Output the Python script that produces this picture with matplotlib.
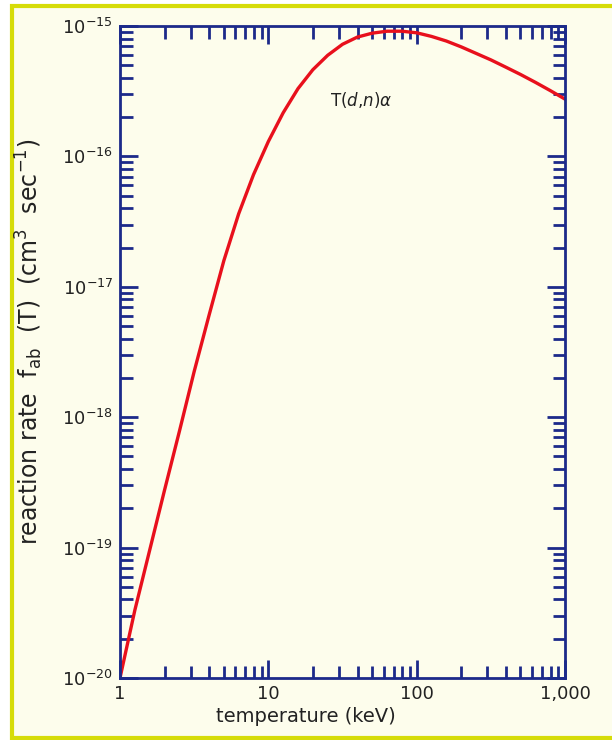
import numpy as np
import matplotlib
matplotlib.use('Agg')
from matplotlib import pyplot as plt
from matplotlib.ticker import LogLocator, FixedLocator, FixedFormatter, NullFormatter
from matplotlib.patches import Rectangle

# D-T reaction rate (keV, cm^3/s)
temperature = [1.0, 1.259, 1.585, 1.995, 2.512, 3.162, 3.981, 5.012, 6.310,
               7.943, 10.0, 12.59, 15.85, 19.95, 25.12, 31.62, 39.81, 50.12,
               63.10, 79.43, 100.0, 125.9, 158.5, 199.5, 251.2, 316.2, 398.1,
               501.2, 631.0, 794.3, 1000.0]
rate = [1.0e-20, 3.31e-20, 9.55e-20, 2.75e-19, 7.76e-19, 2.24e-18, 6.03e-18,
        1.585e-17, 3.63e-17, 7.24e-17, 1.30e-16, 2.16e-16, 3.31e-16, 4.62e-16,
        5.96e-16, 7.24e-16, 8.22e-16, 8.81e-16, 9.12e-16, 9.12e-16, 8.87e-16,
        8.32e-16, 7.67e-16, 6.92e-16, 6.17e-16, 5.50e-16, 4.84e-16, 4.25e-16,
        3.70e-16, 3.20e-16, 2.75e-16]

x_ticks = [1, 10, 100, 1000]
x_tick_labels = ['1', '10', '100', '1,000']
y_ticks = [1e-20, 1e-19, 1e-18, 1e-17, 1e-16, 1e-15]
y_tick_labels = [r'$10^{-20}$', r'$10^{-19}$', r'$10^{-18}$', r'$10^{-17}$',
                 r'$10^{-16}$', r'$10^{-15}$']

navy = '#1c2a8a'
cream = '#fdfdec'

plt.rcParams['mathtext.fontset'] = 'dejavusans'

fig = plt.figure(figsize=(6.12, 7.40), dpi=100)
fig.patch.set_facecolor('white')
# yellow frame around the panel
fig.patches.append(Rectangle((12 / 612, 1 - 738 / 740), 1.0, 732 / 740,
                             transform=fig.transFigure, facecolor=cream,
                             edgecolor='#d6dc08', linewidth=3, zorder=-1))

ax = fig.add_axes([120 / 612, 1 - 678 / 740, 445 / 612, 652 / 740])
ax.set_zorder(1)
ax.set_facecolor(cream)
ax.plot(temperature, rate, color='#e8101c', linewidth=2.4)

ax.set_xscale('log')
ax.set_yscale('log')
ax.set_xlim(1, 1000)
ax.set_ylim(1e-20, 1e-15)

ax.xaxis.set_major_locator(FixedLocator(x_ticks))
ax.xaxis.set_major_formatter(FixedFormatter(x_tick_labels))
ax.xaxis.set_minor_locator(LogLocator(base=10, subs=np.arange(2, 10)))
ax.xaxis.set_minor_formatter(NullFormatter())
ax.yaxis.set_major_locator(FixedLocator(y_ticks))
ax.yaxis.set_major_formatter(FixedFormatter(y_tick_labels))
ax.yaxis.set_minor_locator(LogLocator(base=10, subs=np.arange(2, 10)))
ax.yaxis.set_minor_formatter(NullFormatter())

ax.tick_params(which='both', direction='in', top=True, right=True,
               color=navy, width=2, labelsize=13, labelcolor='#222222')
ax.tick_params(which='major', length=13, pad=5)
ax.tick_params(which='minor', length=9)
for s in ax.spines.values():
    s.set_color(navy)
    s.set_linewidth(2)

ax.set_xlabel('temperature (keV)', fontsize=14, color='#222222')
ax.xaxis.set_label_coords(0.418, -0.044)
ax.set_ylabel(r'reaction rate  f$_{\mathrm{ab}}$  (T)  (cm$^3$  sec$^{-1}$)',
              fontsize=17, color='#222222')
ax.yaxis.set_label_coords(-0.168, 0.515)

ax.text(42, 2.7e-16, r'T($d$,$n$)$\alpha$', fontsize=12, color='#222222',
        ha='center', va='center')

plt.savefig('out.png', dpi=100, facecolor=fig.get_facecolor())
